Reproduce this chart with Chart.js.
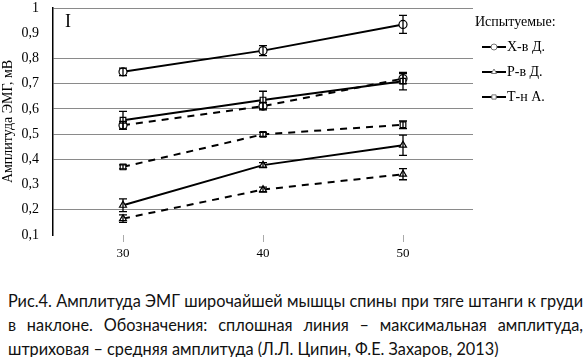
<!DOCTYPE html>
<html><head><meta charset="utf-8">
<script src="https://cdn.jsdelivr.net/npm/chart.js@4"></script>
<style>
html,body{margin:0;padding:0;background:#fff;width:588px;height:357px;overflow:hidden}
#wrap{position:absolute;left:0;top:0;width:588px;height:270px}
#cap{position:absolute;left:8px;top:289px;width:575px;font-family:Lato,"Open Sans",sans-serif;font-size:16.3px;line-height:24px;color:#111;text-align:justify}
</style></head><body>
<div id="wrap"><canvas id="c"></canvas></div>
<div id="cap">Рис.4. Амплитуда ЭМГ широчайшей мышцы спины при тяге штанги к груди в наклоне. Обозначения: сплошная линия – максимальная амплитуда, штриховая – средняя амплитуда (Л.Л. Ципин, Ф.Е. Захаров, 2013)</div>
<script>
const categories = ['30', '40', '50'];
const seriesNames = ['Х-в Д.', 'Р-в Д.', 'Т-н А.'];
const legendTitle = 'Испытуемые:';
const yTitle = 'Амплитуда ЭМГ, мВ';
const panelLabel = 'I';

const xvMax  = [0.747, 0.831, 0.935];
const xvMean = [0.535, 0.611, 0.720];
const rvMax  = [0.218, 0.377, 0.456];
const rvMean = [0.165, 0.280, 0.341];
const tnMax  = [0.555, 0.635, 0.710];
const tnMean = [0.370, 0.499, 0.537];

const xvMaxErr  = [0.015, 0.020, 0.036];
const xvMeanErr = [0.015, 0.015, 0.020];
const rvMaxErr  = [0.025, 0.010, 0.040];
const rvMeanErr = [0.015, 0.010, 0.022];
const tnMaxErr  = [0.035, 0.035, 0.035];
const tnMeanErr = [0.008, 0.008, 0.015];

const hiddenGrid = [1, 3, 9];
const SERIF = '"Liberation Serif","DejaVu Serif",serif';

function ds(label, data, err, style, dashed, legend) {
  return {
    label: label, data: data, err: err, showInLegend: legend,
    borderColor: '#000', borderWidth: 2, borderDash: dashed ? [7, 6] : [],
    pointStyle: style, pointRadius: 4, pointHoverRadius: 4,
    pointBackgroundColor: '#fff', pointBorderColor: '#000', pointBorderWidth: 1.2,
    tension: 0, fill: false
  };
}

const errorBars = {
  id: 'errorBars',
  afterDatasetsDraw(chart) {
    const ctx = chart.ctx, y = chart.scales.y;
    ctx.save();
    ctx.strokeStyle = '#000'; ctx.lineWidth = 1.3;
    chart.data.datasets.forEach((d, i) => {
      const meta = chart.getDatasetMeta(i);
      meta.data.forEach((pt, j) => {
        const e = d.err[j], v = d.data[j];
        const y1 = y.getPixelForValue(v + e), y2 = y.getPixelForValue(v - e);
        ctx.beginPath();
        ctx.moveTo(pt.x, y1); ctx.lineTo(pt.x, y2);
        ctx.moveTo(pt.x - 4, y1); ctx.lineTo(pt.x + 4, y1);
        ctx.moveTo(pt.x - 4, y2); ctx.lineTo(pt.x + 4, y2);
        ctx.stroke();
      });
    });
    ctx.restore();
  }
};

const extras = {
  id: 'extras',
  afterDraw(chart) {
    const ctx = chart.ctx, a = chart.chartArea;
    ctx.save();
    ctx.fillStyle = '#000';
    ctx.font = '18px ' + SERIF;
    ctx.textBaseline = 'middle';
    ctx.fillText(panelLabel, a.left + 12, a.top + 14);
    ctx.font = '14px ' + SERIF;
    ctx.fillText(legendTitle, 475, 22);
    const rows = [47, 72, 97];
    const sets = chart.data.datasets.filter(d => d.showInLegend);
    sets.forEach((d, k) => {
      const yy = rows[k];
      ctx.strokeStyle = '#000'; ctx.lineWidth = 2;
      ctx.beginPath(); ctx.moveTo(482, yy); ctx.lineTo(506, yy); ctx.stroke();
      ctx.lineWidth = 1; ctx.strokeStyle = '#777'; ctx.fillStyle = '#fff';
      Chart.helpers.drawPoint(ctx, {pointStyle: d.pointStyle, radius: 3, borderWidth: 1}, 494, yy);
      ctx.fillStyle = '#000';
      ctx.fillText(d.label, 507, yy);
    });
    ctx.restore();
  }
};

new Chart(document.getElementById('c'), {
  type: 'line',
  data: {
    labels: categories,
    datasets: [
      ds(seriesNames[0], xvMax, xvMaxErr, 'circle', false, true),
      ds(seriesNames[1], rvMax, rvMaxErr, 'triangle', false, true),
      ds(seriesNames[2], tnMax, tnMaxErr, 'rect', false, true),
      ds(seriesNames[0] + ' ср.', xvMean, xvMeanErr, 'circle', true, false),
      ds(seriesNames[1] + ' ср.', rvMean, rvMeanErr, 'triangle', true, false),
      ds(seriesNames[2] + ' ср.', tnMean, tnMeanErr, 'rect', true, false)
    ]
  },
  options: {
    responsive: true, maintainAspectRatio: false, animation: false, devicePixelRatio: 1,
    layout: { padding: { top: 8, right: 115, left: 0, bottom: 0 } },
    plugins: { legend: { display: false }, tooltip: { enabled: false } },
    scales: {
      x: {
        offset: true,
        border: { display: false },
        grid: { offset: false, drawOnChartArea: false, drawTicks: true, tickLength: 7, color: '#aaa' },
        ticks: { color: '#000', font: { family: SERIF, size: 13 }, padding: 4, maxRotation: 0 },
        afterFit(s) { s.height = 35; s.paddingLeft = 0; s.paddingRight = 0; }
      },
      y: {
        min: 0.1, max: 1,
        border: { display: true, color: '#000', width: 1.5 },
        grid: {
          drawTicks: false,
          color: c => hiddenGrid.includes(Math.round(c.tick.value * 10)) ? 'rgba(0,0,0,0)' : '#8a8a8a',
          lineWidth: 1
        },
        ticks: {
          stepSize: 0.1, padding: 14, color: '#000', font: { family: SERIF, size: 14 },
          callback: v => { const r = Math.round(v * 10) / 10; return r === 1 ? '1' : r.toFixed(1).replace('.', ','); }
        },
        title: { display: true, text: yTitle, color: '#000', font: { family: SERIF, size: 14 }, padding: { top: 0, bottom: 0 } },
        afterFit(s) { s.width = 53; s.paddingTop = 0; s.paddingBottom = 0; }
      }
    }
  },
  plugins: [errorBars, extras]
});
</script>
</body></html>
